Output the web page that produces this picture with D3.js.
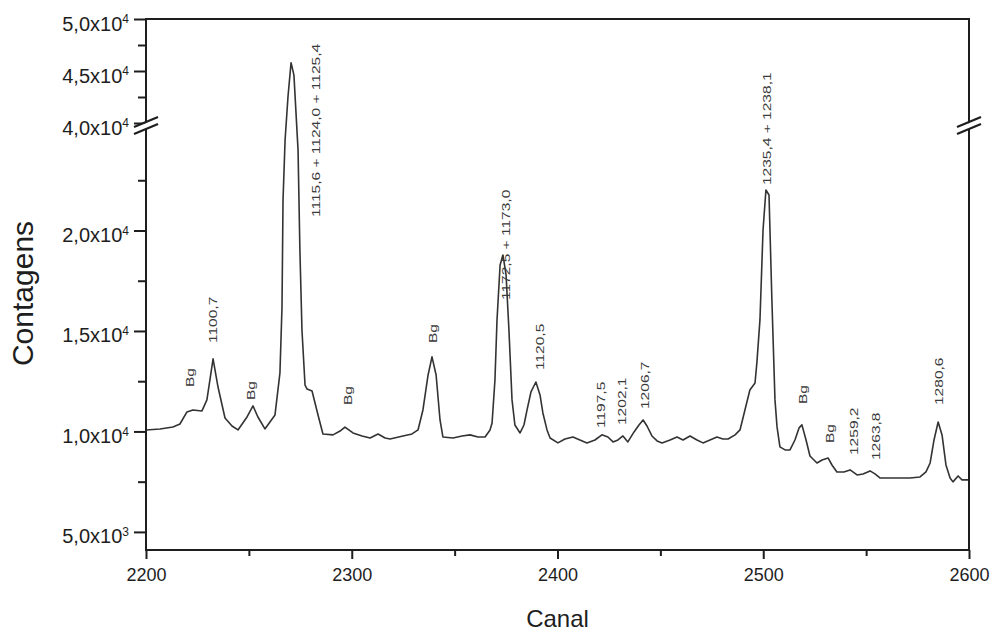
<!DOCTYPE html>
<html><head><meta charset="utf-8">
<script src="https://cdn.jsdelivr.net/npm/d3@7"></script>
<style>body{margin:0;background:#fff}</style>
</head><body><svg id="c" width="997" height="641"></svg>
<script>
// ---- data ----
const channels = [2200,2206.8,2213.1,2216.5,2219.9,2222.8,2227.2,2229.6,2232.6,2235.0,
2238.4,2241.8,2244.7,2249.1,2252.0,2254.4,2257.8,2262.7,2265.1,2266.1,
2266.6,2267.6,2269.0,2270.5,2271.9,2273.9,2274.8,2275.8,2277.3,2278.3,
2280.7,2283.6,2286.0,2290.9,2294.3,2296.7,2300.6,2305.0,2308.9,2312.8,
2316.2,2318.6,2324.9,2329.3,2332.2,2334.6,2337.1,2339.0,2341.0,2342.9,
2344.3,2349.2,2353.6,2357.5,2361.4,2364.8,2367.2,2368.2,2369.6,2370.6,
2372.1,2373.5,2375.0,2376.4,2377.9,2379.3,2381.8,2383.7,2385.2,2387.1,
2389.5,2391.5,2392.9,2394.9,2396.4,2400.2,2403.6,2407.5,2410.9,2414.3,
2418.2,2421.6,2424.5,2427.0,2429.4,2431.8,2434.2,2437.2,2439.6,2441.6,
2443.5,2445.9,2448.4,2450.8,2454.7,2458.1,2461.0,2464.4,2467.8,2470.7,
2474.1,2477.5,2480.4,2482.9,2486.3,2488.7,2491.1,2493.5,2496.0,2496.9,
2498.4,2499.9,2501.3,2502.8,2504.2,2505.7,2506.7,2508.1,2510.6,2513.0,
2515.4,2517.4,2518.8,2520.8,2522.7,2526.1,2528.6,2531.5,2533.4,2535.8,
2539.2,2542.2,2545.6,2548.5,2551.9,2554.3,2556.7,2561.6,2566.5,2571.3,
2576.2,2579.1,2581.1,2583.0,2585.0,2586.9,2588.8,2590.8,2592.2,2594.7,
2596.6,2600];
const counts = [10075,10125,10225,10370,10970,11070,11020,11570,13610,12210,
10670,10270,10075,10720,11270,10720,10125,10820,12910,16190,
21520,24500,42500,45800,44600,24000,19030,15050,12300,12110,
12010,10820,9875,9830,10020,10220,9925,9775,9675,9875,
9675,9625,9775,9875,10075,11070,12810,13710,12810,10570,
9725,9675,9775,9830,9725,9725,10075,10420,12560,15550,
18280,18780,17790,15050,11570,10320,9925,10320,11070,11965,
12460,11815,10920,10075,9675,9430,9625,9725,9575,9430,
9575,9830,9725,9480,9575,9775,9480,9975,10320,10570,
10270,9775,9530,9430,9575,9725,9575,9775,9575,9430,
9575,9725,9625,9625,9830,10075,11070,12065,12410,13410,
15550,20025,22015,21765,16540,11570,10225,9230,9080,9080,
9575,10175,10325,9575,8780,8430,8580,8680,8330,7985,
7985,8085,7835,7885,8035,7885,7685,7685,7685,7685,
7735,7985,8430,9575,10470,9825,8335,7685,7490,7785,
7590,7590];
const xTicks = [2200,2300,2400,2500,2600];
const xMinorTicks = [2250,2350,2450,2550];
const yLowTicks = [5000,10000,15000,20000];
const yLowMinor = [7500,12500,17500,22500];
const yHighTicks = [40000,45000,50000];
const yHighMinor = [42500,47500];
const labelTexts = ["Bg","1100,7","Bg","1115,6 + 1124,0 + 1125,4","Bg","Bg","1172,5 + 1173,0","1120,5",
  "1197,5","1202,1","1206,7","1235,4 + 1238,1","Bg","Bg","1259,2","1263,8","1280,6"];
const labelChannels = [2221.4,2232.6,2251.0,2282.6,2298.2,2339.5,2375.0,2391.5,
  2421.1,2431.4,2442.5,2501.8,2519.3,2532.4,2544.1,2554.8,2585.4];
const labelCounts = [12211,14400,11564,20670,11315,14400,16540,13057,
  10171,10320,11116,22262,11365,9424,8827,8578,11315];
const xTitle = "Canal", yTitle = "Contagens";

// ---- chart ----
const svg = d3.select("#c");
const L = 146, R = 969, T = 19, B = 550, BRK = 124;
const x = d3.scaleLinear().domain([2200, 2600]).range([L, R]);
const yLow = d3.scaleLinear().domain([4100, 25250]).range([B, BRK + 1]);
const yHigh = d3.scaleLinear().domain([40000, 50000]).range([BRK - 1, T]);
const y = v => v >= 40000 ? yHigh(v) : yLow(Math.min(v, 25250));
const font = "'Liberation Sans', Arial, sans-serif";
const ink = "#1e1e1e";

// curve
const pts = channels.map((c, i) => [c, counts[i]]);
svg.append("path").datum(pts)
  .attr("d", d3.line().x(d => x(d[0])).y(d => y(d[1])))
  .attr("fill", "none").attr("stroke", "#333").attr("stroke-width", 1.6)
  .attr("stroke-linejoin", "round");

// peak labels
svg.append("g").selectAll("text").data(labelTexts).join("text")
  .attr("transform", (d, i) => `translate(${x(labelChannels[i])},${y(labelCounts[i])}) rotate(-90) scale(1.35,1)`)
  .attr("dy", "0.36em").attr("text-anchor", "start")
  .attr("font-family", font).attr("font-size", 11.5).attr("fill", "#3a3a3a")
  .text(d => d);

// axes
function styleAxis(g) {
  g.select(".domain").remove();
  g.selectAll(".tick line").attr("stroke", ink).attr("stroke-width", 2);
}
const fmtTick = (sel) => {
  sel.selectAll(".tick text").each(function(v) {
    const e = Math.floor(Math.log10(v));
    const m = (v / Math.pow(10, e)).toFixed(1).replace(".", ",");
    const t = d3.select(this).text(null);
    t.append("tspan").text(m + "x10");
    t.append("tspan").attr("dy", "-0.6em").attr("font-size", 12).text(e);
  });
};
const gy1 = svg.append("g").attr("transform", `translate(${L},0)`)
  .call(d3.axisLeft(yLow).tickValues(yLowTicks).tickSize(12).tickPadding(5));
const gy2 = svg.append("g").attr("transform", `translate(${L},0)`)
  .call(d3.axisLeft(yHigh).tickValues(yHighTicks).tickSize(12).tickPadding(5));
[gy1, gy2].forEach(g => {
  styleAxis(g);
  g.selectAll(".tick text").attr("font-family", font).attr("font-size", 20).attr("fill", ink)
    .attr("dy", "0.55em");
  fmtTick(g);
});
const gm1 = svg.append("g").attr("transform", `translate(${L},0)`)
  .call(d3.axisLeft(yLow).tickValues(yLowMinor).tickSize(8).tickFormat(""));
const gm2 = svg.append("g").attr("transform", `translate(${L},0)`)
  .call(d3.axisLeft(yHigh).tickValues(yHighMinor).tickSize(8).tickFormat(""));
[gm1, gm2].forEach(styleAxis);

const gx = svg.append("g").attr("transform", `translate(0,${B})`)
  .call(d3.axisBottom(x).tickValues(xTicks).tickSize(9).tickPadding(9).tickFormat(d3.format("d")));
styleAxis(gx);
gx.selectAll(".tick text").attr("font-family", font).attr("font-size", 18).attr("fill", ink);
const gxm = svg.append("g").attr("transform", `translate(0,${B})`)
  .call(d3.axisBottom(x).tickValues(xMinorTicks).tickSize(6).tickFormat(""));
styleAxis(gxm);

// frame
svg.append("rect").attr("x", L).attr("y", T).attr("width", R - L).attr("height", B - T)
  .attr("fill", "none").attr("stroke", ink).attr("stroke-width", 2);

// axis breaks
[L, R].forEach(ax => {
  const g = svg.append("g").attr("transform", `translate(${ax},${BRK})`);
  g.append("path").attr("d", "M-12,4 L12,-6 L12,0 L-12,10 Z").attr("fill", "#fff");
  g.append("path").attr("d", "M-12,3 L12,-7").attr("stroke", ink).attr("stroke-width", 2.2);
  g.append("path").attr("d", "M-12,10 L12,0").attr("stroke", ink).attr("stroke-width", 2.2);
});

// titles
svg.append("text").attr("x", (L + R) / 2).attr("y", 627).attr("text-anchor", "middle")
  .attr("font-family", font).attr("font-size", 24).attr("fill", ink).text(xTitle);
svg.append("text").attr("transform", `translate(33,${(T + B) / 2 + 9}) rotate(-90)`)
  .attr("text-anchor", "middle").attr("font-family", font).attr("font-size", 30).attr("fill", ink)
  .text(yTitle);
</script></body></html>
